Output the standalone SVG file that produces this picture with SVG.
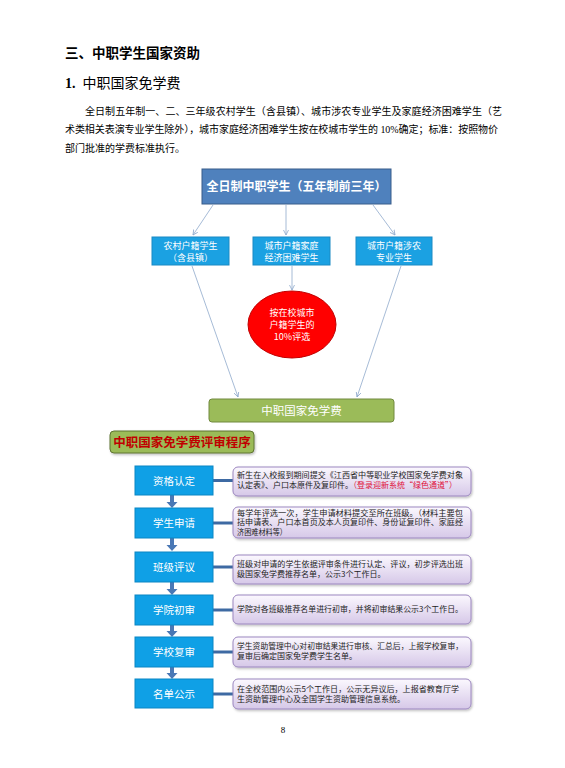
<svg xmlns="http://www.w3.org/2000/svg" width="565" height="768" viewBox="0 0 565 768">
<defs>
<style>
.serif{font-family:"Liberation Serif","Noto Sans CJK SC",serif;fill:#000}
.sans{font-family:"Noto Sans CJK SC","Liberation Sans",sans-serif}
.wt{fill:#fff;text-anchor:middle}
.l2{fill:#1ba1e2;stroke:#1a8ac4;stroke-width:1}
.step{fill:#0fa0e6;stroke:#0b86c4;stroke-width:1}
.desc{fill:url(#pg);stroke:#9b86bf;stroke-width:1}
.dt{font-size:8px;fill:#222}
.conn{stroke:#8fa9cc;stroke-width:0.8;fill:none}
.hl{stroke:#3e6aa3;stroke-width:3}
.darr{fill:#4a78b5}
</style>
<linearGradient id="pg" x1="0" y1="0" x2="0" y2="1">
<stop offset="0" stop-color="#fbf8fe"/>
<stop offset="1" stop-color="#d6c8e8"/>
</linearGradient>
<marker id="ah" markerWidth="6" markerHeight="6" refX="5" refY="3" orient="auto" markerUnits="userSpaceOnUse">
<path d="M0,0.5 L5,3 L0,5.5" fill="none" stroke="#8fa9cc" stroke-width="0.8"/>
</marker>
<filter id="sh" x="-5%" y="-10%" width="110%" height="130%">
<feDropShadow dx="1" dy="1.5" stdDeviation="0.8" flood-color="#000" flood-opacity="0.25"/>
</filter>
</defs>
<rect width="565" height="768" fill="#fff"/>

<g id="heading">
<text class="sans" x="65" y="58" font-size="13.5" font-weight="bold" fill="#000">三、中职学生国家资助</text>
<text class="serif" x="65" y="88" font-size="14" xml:space="preserve"><tspan font-weight="bold">1.</tspan>  中职国家免学费</text>
<text class="serif" x="85" y="115" font-size="10" textLength="417" lengthAdjust="spacing">全日制五年制一、二、三年级农村学生（含县镇）、城市涉农专业学生及家庭经济困难学生（艺</text>
<text class="serif" x="65" y="133" font-size="10" textLength="433" lengthAdjust="spacing">术类相关表演专业学生除外），城市家庭经济困难学生按在校城市学生的 10%确定；标准：按照物价</text>
<text class="serif" x="65" y="152" font-size="10">部门批准的学费标准执行。</text>
</g>

<g id="connectors">
<line class="conn" x1="213" y1="205" x2="193" y2="235" marker-end="url(#ah)"/>
<line class="conn" x1="286" y1="205" x2="286" y2="235" marker-end="url(#ah)"/>
<line class="conn" x1="373" y1="205" x2="395" y2="235" marker-end="url(#ah)"/>
<line class="conn" x1="192" y1="266" x2="238" y2="397" marker-end="url(#ah)"/>
<line class="conn" x1="292" y1="266" x2="292" y2="290" marker-end="url(#ah)"/>
<line class="conn" x1="401" y1="266" x2="357" y2="397" marker-end="url(#ah)"/>
<line class="hl" x1="213" y1="480.5" x2="234" y2="480.5"/>
<line class="hl" x1="213" y1="523" x2="234" y2="523"/>
<line class="hl" x1="213" y1="567" x2="234" y2="567"/>
<line class="hl" x1="213" y1="610" x2="234" y2="610"/>
<line class="hl" x1="213" y1="652" x2="234" y2="652"/>
<line class="hl" x1="213" y1="694" x2="234" y2="694"/>
<path class="darr" d="M170,495 h4 v7 h3.5 l-5.5,6 l-5.5,-6 h3.5 z"/>
<path class="darr" d="M170,538 h4 v7 h3.5 l-5.5,6 l-5.5,-6 h3.5 z"/>
<path class="darr" d="M170,582 h4 v7 h3.5 l-5.5,6 l-5.5,-6 h3.5 z"/>
<path class="darr" d="M170,625 h4 v6 h3.5 l-5.5,6 l-5.5,-6 h3.5 z"/>
<path class="darr" d="M170,667 h4 v6 h3.5 l-5.5,6 l-5.5,-6 h3.5 z"/>
</g>

<g id="top">
<rect x="202" y="169" width="189" height="35" fill="#4f81bd" stroke="#385d8a"/>
<text class="sans wt" x="296.5" y="191" font-size="12" font-weight="bold">全日制中职学生（五年制前三年）</text>
</g>
<g id="rural">
<rect class="l2" x="152" y="237" width="77" height="28"/>
<text class="sans wt" x="190.5" y="249" font-size="9">农村户籍学生</text>
<text class="sans wt" x="190.5" y="261" font-size="9">（含县镇）</text>
</g>
<g id="urban-poor">
<rect class="l2" x="253" y="237" width="77" height="28"/>
<text class="sans wt" x="291.5" y="249" font-size="9">城市户籍家庭</text>
<text class="sans wt" x="291.5" y="261" font-size="9">经济困难学生</text>
</g>
<g id="urban-agri">
<rect class="l2" x="356" y="237" width="76" height="28"/>
<text class="sans wt" x="394" y="249" font-size="9">城市户籍涉农</text>
<text class="sans wt" x="394" y="261" font-size="9">专业学生</text>
</g>
<g id="ellipse">
<ellipse cx="292" cy="324.5" rx="44" ry="33.5" fill="#ff0000" stroke="#c00000"/>
<text class="sans wt" x="292" y="316" font-size="9">按在校城市</text>
<text class="sans wt" x="292" y="328" font-size="9">户籍学生的</text>
<text class="sans wt" x="292" y="340" font-size="9">10%评选</text>
</g>
<g id="result">
<rect x="209" y="399" width="185" height="23" rx="3" fill="#9bbb59" stroke="#71893f"/>
<text class="sans wt" x="301.5" y="415" font-size="11.5">中职国家免学费</text>
</g>

<g id="proc-title">
<rect x="110" y="431" width="144" height="22" rx="4" fill="#9bbb59" stroke="#5f7530" filter="url(#sh)"/>
<text class="sans" x="182" y="446.5" font-size="12.5" font-weight="bold" fill="#c00000" text-anchor="middle">中职国家免学费评审程序</text>
</g>

<g id="s1"><rect class="step" x="135" y="466" width="78" height="29"/><text class="sans wt" x="174" y="484.5" font-size="10.5">资格认定</text></g>
<g id="s2"><rect class="step" x="135" y="508" width="78" height="30"/><text class="sans wt" x="174" y="527" font-size="10.5">学生申请</text></g>
<g id="s3"><rect class="step" x="135" y="552" width="78" height="30"/><text class="sans wt" x="174" y="571" font-size="10.5">班级评议</text></g>
<g id="s4"><rect class="step" x="135" y="595" width="78" height="30"/><text class="sans wt" x="174" y="614" font-size="10.5">学院初审</text></g>
<g id="s5"><rect class="step" x="135" y="637" width="78" height="30"/><text class="sans wt" x="174" y="656" font-size="10.5">学校复审</text></g>
<g id="s6"><rect class="step" x="135" y="679" width="78" height="29"/><text class="sans wt" x="174" y="697.5" font-size="10.5">名单公示</text></g>

<g id="d1">
<rect class="desc" x="233" y="467" width="238" height="29" rx="5" filter="url(#sh)"/>
<text class="sans dt" x="237" y="478" textLength="226" lengthAdjust="spacingAndGlyphs">新生在入校报到期间提交《江西省中等职业学校国家免学费对象</text>
<text class="sans dt" x="237" y="488">认定表》、户口本原件及复印件。<tspan fill="#e0103a">（登录迎新系统“绿色通道”）</tspan></text>
</g>
<g id="d2">
<rect class="desc" x="233" y="507" width="238" height="31" rx="5" filter="url(#sh)"/>
<text class="sans dt" x="237" y="515.5" font-size="6.6" textLength="226" lengthAdjust="spacingAndGlyphs">每学年评选一次，学生申请材料提交至所在班级。（材料主要包</text>
<text class="sans dt" x="237" y="525.2" font-size="6.6" textLength="226" lengthAdjust="spacingAndGlyphs">括申请表、户口本首页及本人页复印件、身份证复印件、家庭经</text>
<text class="sans dt" x="237" y="534.9" font-size="6.6" textLength="50" lengthAdjust="spacingAndGlyphs">济困难材料等）</text>
</g>
<g id="d3">
<rect class="desc" x="233" y="555" width="238" height="29" rx="5" filter="url(#sh)"/>
<text class="sans dt" x="237" y="567" textLength="226" lengthAdjust="spacingAndGlyphs">班级对申请的学生依据评审条件进行认定、评议，初步评选出班</text>
<text class="sans dt" x="237" y="577">级国家免学费推荐名单，公示3个工作日。</text>
</g>
<g id="d4">
<rect class="desc" x="233" y="595" width="238" height="29" rx="5" filter="url(#sh)"/>
<text class="sans dt" x="237" y="612" textLength="226" lengthAdjust="spacingAndGlyphs">学院对各班级推荐名单进行初审，并将初审结果公示3个工作日。</text>
</g>
<g id="d5">
<rect class="desc" x="233" y="637" width="238" height="30" rx="5" filter="url(#sh)"/>
<text class="sans dt" x="237" y="649" textLength="226" lengthAdjust="spacingAndGlyphs">学生资助管理中心对初审结果进行审核、汇总后，上报学校复审，</text>
<text class="sans dt" x="237" y="659">复审后确定国家免学费学生名单。</text>
</g>
<g id="d6">
<rect class="desc" x="233" y="679" width="238" height="30" rx="5" filter="url(#sh)"/>
<text class="sans dt" x="237" y="692" textLength="222" lengthAdjust="spacingAndGlyphs">在全校范围内公示5个工作日，公示无异议后，上报省教育厅学</text>
<text class="sans dt" x="237" y="702">生资助管理中心及全国学生资助管理信息系统。</text>
</g>

<g id="page">
<text class="serif" x="283" y="733" font-size="9" text-anchor="middle">8</text>
</g>
</svg>
